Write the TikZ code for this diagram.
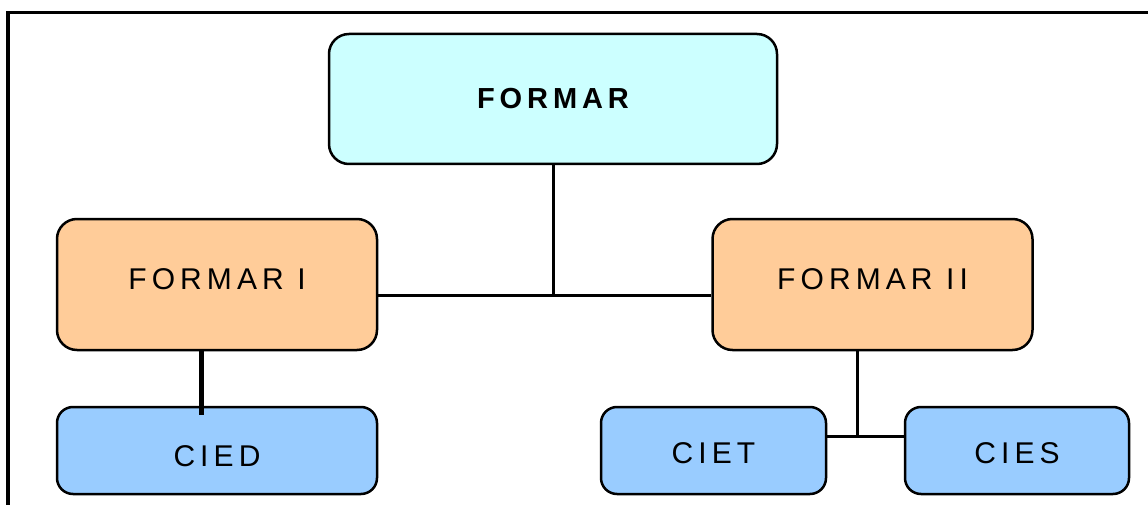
\documentclass[tikz,border=0pt]{standalone}
\usepackage{fontspec}
\newfontfamily\unitfont[LetterSpace=17]{Liberation Sans}
\usetikzlibrary{positioning,calc}
\definecolor{rootcyan}{HTML}{CCFFFF}
\definecolor{branchorange}{HTML}{FFCC99}
\definecolor{centreblue}{HTML}{99CCFF}
\tikzset{
  unitnode/.style = {shape=rectangle, rounded corners=20pt,
                     draw, line width=2.5pt, align=center, inner sep=0pt,
                     font=\unitfont\fontsize{30}{36}\selectfont},
  root/.style     = {unitnode, fill=rootcyan, minimum width=448pt, minimum height=130pt,
                     font=\unitfont\fontsize{29}{35}\selectfont\bfseries},
  branch/.style   = {unitnode, fill=branchorange, minimum width=320pt, minimum height=131pt},
  centre/.style   = {unitnode, fill=centreblue, rounded corners=16pt, minimum height=87pt},
  link/.style     = {line width=3pt},
  heavylink/.style= {line width=5pt}
}

\begin{document}
\begin{tikzpicture}[x=1pt,y=-1pt]
\useasboundingbox (0,0) rectangle (1148,505);
% frame of the page
\draw[line width=3.5pt] (8,505) -- (8,12.5) -- (1148,12.5);
% units
\node [root] (formar) at (553,99) {FORMAR};
\node [branch, text height=10.5pt, text depth=0pt] (formar1) at (217,284.5) {FORMAR I};
\node [branch, text height=10.5pt, text depth=0pt] (formar2) at (872.5,284.5) {FORMAR II};
\node [centre, minimum width=320pt, text height=32pt, text depth=0pt] (cied) at (217,450.5) {CIED};
\node [centre, minimum width=225pt, text height=26pt, text depth=0pt] (ciet) at (713.5,450.5) {CIET};
\node [centre, minimum width=224pt, text height=26pt, text depth=0pt] (cies) at (1017,450.5) {CIES};
% connectors
\coordinate (mid) at (553,295);
\coordinate (split) at (857,436);
\coordinate (ciedtop) at (201,415);
\draw[link] (formar.south) -- (mid);
\draw[link] (formar1.east |- mid) -- (formar2.west |- mid);
\draw[link] (formar2.south -| split) -- (split);
\draw[link] (ciet.east |- split) -- (cies.west |- split);
\draw[heavylink] (formar1.south -| ciedtop) -- (ciedtop);
\end{tikzpicture}
\end{document}
